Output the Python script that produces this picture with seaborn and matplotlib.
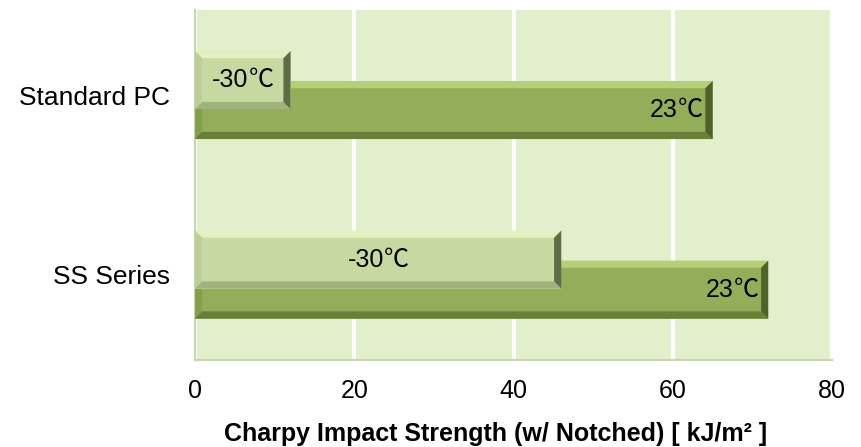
import numpy as np
import pandas as pd
import matplotlib
matplotlib.use("Agg")
import matplotlib.pyplot as plt
from matplotlib.patches import Polygon
from matplotlib.offsetbox import TextArea, HPacker, AnnotationBbox
import seaborn as sns

# ── data ─────────────────────────────────────────────────────────────────────
materials  = ["Standard PC", "SS Series"]
temps      = ["-30℃", "23℃"]
cold_vals  = [12, 46]      # -30℃
room_vals  = [65, 72]      # 23℃
x_ticks    = [0, 20, 40, 60, 80]
x_label    = "Charpy Impact Strength (w/ Notched) [ kJ/m² ]"

df = pd.DataFrame({
    "material": materials * 2,
    "temp":     [temps[0]] * len(materials) + [temps[1]] * len(materials),
    "strength": cold_vals + room_vals,
})

sns.set_theme(style="white")
plt.rcParams["font.family"] = ["Liberation Sans", "Noto Sans CJK JP", "DejaVu Sans"]
plt.rcParams["text.color"] = "black"
plt.rcParams["axes.labelcolor"] = "black"
plt.rcParams["xtick.color"] = "black"
plt.rcParams["ytick.color"] = "black"

BG      = "#e2efcc"
C_ROOM  = "#93ae59"
C_COLD  = "#c6d9a1"
BAR_H   = 0.323
SHIFT   = 0.078

fig = plt.figure(figsize=(8.61, 4.47), dpi=100)
ax = fig.add_axes([0.2265, 0.1946, 0.7398, 0.7830])
ax.set_facecolor(BG)

sns.barplot(data=df, y="material", x="strength", hue="temp", hue_order=temps,
            order=materials, orient="h", dodge=True, width=2 * BAR_H,
            palette={temps[0]: C_COLD, temps[1]: C_ROOM}, saturation=1,
            legend=False, ax=ax)

ax.set_xlim(0, 80)
ax.set_ylim(1.476, -0.474)


def bevel(patch, top, left, bottom, right, z):
    # bevelled edges like the office bar style, ~7 px wide
    x0, y0 = patch.get_x(), patch.get_y()
    x1, y1 = x0 + patch.get_width(), y0 + patch.get_height()
    dx, dy = 0.9, 0.04           # y axis is inverted: y0 is the visual top
    sides = [
        ([(x0, y0), (x1, y0), (x1 - dx, y0 + dy), (x0 + dx, y0 + dy)], top),
        ([(x0, y0), (x0 + dx, y0 + dy), (x0 + dx, y1 - dy), (x0, y1)], left),
        ([(x0, y1), (x1, y1), (x1 - dx, y1 - dy), (x0 + dx, y1 - dy)], bottom),
        ([(x1, y0), (x1, y1), (x1 - dx, y1 - dy), (x1 - dx, y0 + dy)], right),
    ]
    for pts, c in sides:
        ax.add_patch(Polygon(pts, closed=True, facecolor=c, edgecolor="none",
                             zorder=z + 0.1))


def temp_label(text, xy, align, offset):
    # digits in the Latin font, ℃ from the CJK font (as the office fallback does)
    num, unit = text[:-1], text[-1]
    box = HPacker(children=[
        TextArea(num,  textprops=dict(fontsize=18, family="Liberation Sans", color="black")),
        TextArea(unit, textprops=dict(fontsize=18, family="Noto Sans CJK JP", color="black")),
    ], sep=0, align="baseline")
    ab = AnnotationBbox(box, xy, xybox=offset, boxcoords="offset points",
                        box_alignment=align, frameon=False, pad=0, zorder=6)
    ax.add_artist(ab)


# Excel-style series overlap: pull the two bars of each group together
cold_c, room_c = ax.containers[0], ax.containers[1]
for p in cold_c:
    p.set_y(p.get_y() + SHIFT)
    p.set_zorder(4)
    p.set_edgecolor("none")
    bevel(p, "#e4efc2", "#bccf98", "#9fb47a", "#5e6d45", 4)
for p in room_c:
    p.set_y(p.get_y() - SHIFT)
    p.set_zorder(3)
    p.set_edgecolor("none")
    bevel(p, "#b5cf78", "#85a04b", "#677f3a", "#4f6329", 3)

# labels: -30℃ centred, 23℃ at the inside end
for p in cold_c:
    temp_label(temps[0], (p.get_x() + p.get_width() / 2, p.get_y() + p.get_height() / 2),
               (0.5, 0.5), (0, 0))
for p in room_c:
    temp_label(temps[1], (p.get_x() + p.get_width(), p.get_y() + p.get_height() / 2),
               (1.0, 0.5), (-7, 0))

ax.set_xticks(x_ticks)
ax.xaxis.grid(True, color="white", linewidth=3)
ax.yaxis.grid(False)
ax.set_axisbelow(True)
for s in ax.spines.values():
    s.set_visible(False)
for s in ("left", "bottom"):
    ax.spines[s].set_visible(True)
    ax.spines[s].set_color("#c8d6b0")
    ax.spines[s].set_linewidth(1.5)
ax.tick_params(axis="x", length=0, pad=14, labelsize=18)
ax.tick_params(axis="y", length=0, pad=18, labelsize=19)
ax.set_ylabel("")
ax.set_xlabel(x_label, fontsize=18, fontweight="bold", labelpad=9)
ax.xaxis.set_label_coords(0.4725, -0.178)
ax.xaxis.label.set_va("top")

fig.savefig("out.png", dpi=100)
plt.close(fig)
